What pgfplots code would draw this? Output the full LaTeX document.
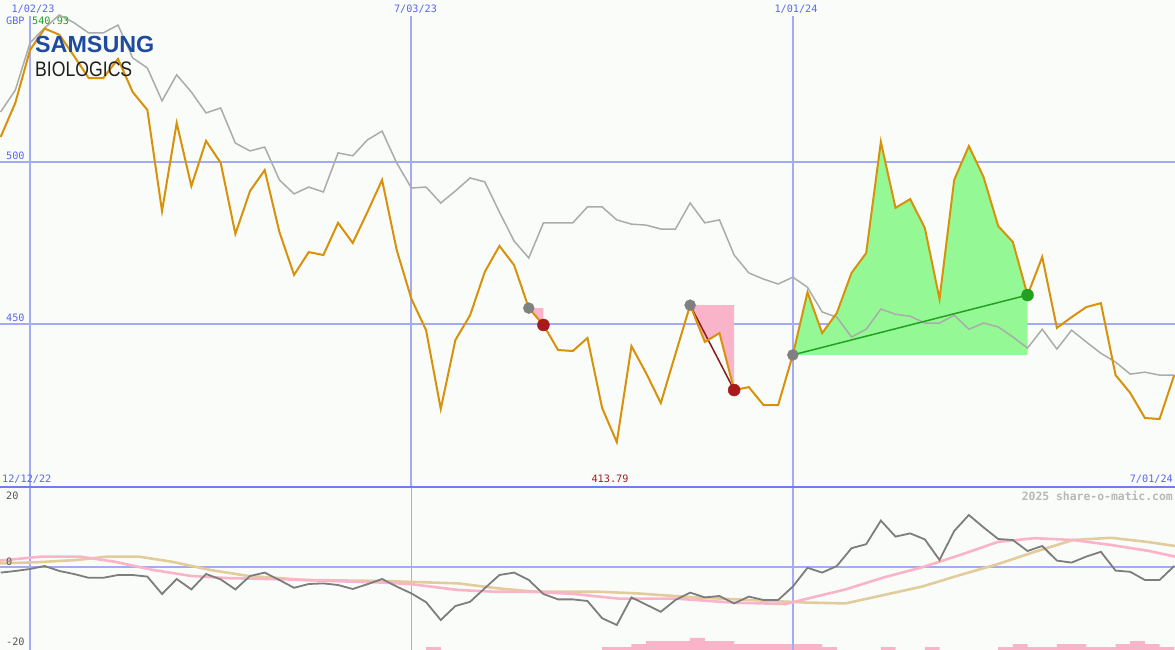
\documentclass[border=0pt]{standalone}
\usepackage{pgfplots}
\pgfplotsset{compat=1.18}
\usepackage{pgfplotstable}
\usepackage{graphicx}
\usepackage{fontspec}
\setmainfont{DejaVu Sans Mono}
\newfontfamily\logofont{Liberation Sans}

\definecolor{bgc}{HTML}{FAFCFA}
\definecolor{gridc}{HTML}{A2ABF4}
\definecolor{sepc}{HTML}{6F7DEE}
\definecolor{labc}{HTML}{5A66EE}
\definecolor{orangec}{HTML}{D8920A}
\definecolor{grayc}{HTML}{ABABAB}
\definecolor{dgray}{HTML}{7D7D7D}
\definecolor{pinkc}{HTML}{F9B4C9}
\definecolor{tanc}{HTML}{E3CC9C}
\definecolor{greenfill}{HTML}{94F994}
\definecolor{greenl}{HTML}{22A022}
\definecolor{redc}{HTML}{AA1A1A}
\definecolor{darkred}{HTML}{8B1A1A}
\definecolor{dotgray}{HTML}{808080}
\definecolor{samsungblue}{HTML}{1E4BA0}
\definecolor{wmark}{HTML}{B8B8B8}
\definecolor{lowlab}{HTML}{555555}

\pgfplotstableread{
w v
-2 507.6
-1 518.1
0 534.3
1 540.93
2 539.0
3 532.5
4 525.7
5 525.7
6 531.6
7 521.4
8 515.9
9 484.8
10 511.9
11 492.5
12 506.4
13 499.6
14 477.8
15 491.0
16 497.4
17 478.4
18 465.2
19 472.2
20 471.3
21 481.2
22 475.0
23 484.5
24 494.4
25 472.8
26 457.8
27 448.2
28 424.0
29 445.2
30 452.8
31 466.1
32 474.1
33 468.2
34 455.0
35 449.8
36 442.1
37 441.8
38 445.8
39 424.3
40 413.79
41 443.3
42 435.0
43 425.8
44 440.9
45 455.9
46 444.6
47 447.3
48 429.8
49 430.7
50 425.2
51 425.2
52 440.6
53 459.9
54 447.3
55 453.5
56 465.8
57 471.9
58 506.1
59 485.8
60 488.5
61 479.6
62 457.8
63 494.4
64 504.8
65 495.3
66 480.2
67 475.3
68 459.0
69 470.7
70 448.9
71 452.2
72 455.3
73 456.5
74 434.4
75 428.9
76 421.2
77 420.9
78 434.4
}\orangedata

\pgfplotstableread{
w v
-2 515.3
-1 522.0
0 536.5
1 541.1
2 545.1
3 542.7
4 539.6
5 539.6
6 542.0
7 531.9
8 528.8
9 518.7
10 526.7
11 521.4
12 515.0
13 516.5
14 505.7
15 503.3
16 504.5
17 494.4
18 490.1
19 492.2
20 490.7
21 502.7
22 501.8
23 506.7
24 509.4
25 499.6
26 491.9
27 492.2
28 487.3
29 491.0
30 495.0
31 493.8
32 484.5
33 475.6
34 470.4
35 481.2
36 481.2
37 481.2
38 486.1
39 486.1
40 482.1
41 480.8
42 480.5
43 479.3
44 479.3
45 487.3
46 481.2
47 482.1
48 471.3
49 465.8
50 463.9
51 462.4
52 464.5
53 461.4
54 453.8
55 452.2
56 446.1
57 448.5
58 454.7
59 453.1
60 452.5
61 450.4
62 450.4
63 452.8
64 448.5
65 450.4
66 449.2
67 446.1
68 442.7
69 448.5
70 442.4
71 448.2
72 444.6
73 441.1
74 438.4
75 434.7
76 435.3
77 434.4
78 434.4
}\graydata

\pgfplotstableread{
w v
-2 -1.4
-1 -1.0
0 -0.5
1 0.25
2 -1.0
3 -1.75
4 -2.7
5 -2.7
6 -2.0
7 -2.0
8 -2.4
9 -6.75
10 -3.0
11 -5.6
12 -1.75
13 -3.1
14 -5.6
15 -2.25
16 -1.4
17 -3.25
18 -5.2
19 -4.25
20 -4.1
21 -4.5
22 -5.5
23 -4.3
24 -3.0
25 -4.9
26 -6.6
27 -8.8
28 -13.25
29 -9.75
30 -8.7
31 -5.3
32 -2.0
33 -1.4
34 -3.25
35 -6.75
36 -8.1
37 -8.1
38 -8.5
39 -12.8
40 -14.5
41 -7.6
42 -9.4
43 -11.2
44 -8.25
45 -6.4
46 -7.6
47 -7.25
48 -9.1
49 -7.4
50 -8.25
51 -8.25
52 -4.9
53 -0.2
54 -1.4
55 0.25
56 4.7
57 5.7
58 11.6
59 7.6
60 8.4
61 6.9
62 1.75
63 9.0
64 13.0
65 9.9
66 7.0
67 6.75
68 4.0
69 5.25
70 1.6
71 1.1
72 2.6
73 3.8
74 -0.9
75 -1.2
76 -3.25
77 -3.25
78 0.25
}\momdata

\pgfplotstableread{
w v
-2.05 1.6
0.8 2.6
3.4 2.6
5.8 1.3
8.4 -0.75
11.0 -2.25
13.6 -2.8
17.5 -3.1
21.4 -3.6
24.1 -3.9
26.0 -4.3
29.2 -5.75
31.8 -6.2
34.5 -6.2
37.1 -6.75
40.1 -7.9
44.0 -7.9
47.9 -8.9
51.5 -9.25
53.0 -7.9
55.6 -5.6
58.2 -2.6
60.8 -0.1
63.4 3.0
66.0 6.3
68.5 7.2
71.1 6.75
73.7 5.5
76.3 4.0
78.05 2.6
}\pinkdata

\pgfplotstableread{
w v
-2.05 0.9
0.55 1.2
3.2 1.75
5.25 2.6
7.4 2.6
9.7 1.3
12.3 -0.75
14.9 -2.25
18.8 -3.25
24.1 -3.5
29.2 -4.1
31.8 -5.3
34.5 -6.2
38.9 -6.2
41.4 -6.6
45.3 -7.6
49.1 -8.25
53.0 -8.9
55.6 -9.1
58.2 -7.0
60.8 -4.9
63.4 -2.0
66.0 0.75
68.5 3.8
71.1 6.75
73.7 7.3
76.3 6.2
78.05 5.25
}\tandata

\pgfplotstableread{
w h
27.5 3
39.5 3
40.5 3
41.5 6
42.5 9
43.5 9
44.5 9
45.5 12
46.5 9
47.5 9
48.5 6
49.5 6
50.5 6
51.5 6
52.5 6
53.5 6
54.5 3
58.5 3
61.5 3
66.5 3
67.5 6
68.5 3
69.5 3
70.5 6
71.5 6
72.5 3
73.5 3
74.5 6
75.5 9
76.5 6
77.5 3
}\bardata

\pgfplotsset{panel/.style={scale only axis, width=1175bp, xmin=-2.045, xmax=78.05,
  axis lines=none, xtick=\empty, ytick=\empty}}

\begin{document}
\begin{tikzpicture}
\useasboundingbox (0,0) rectangle (1175bp,650bp);
\fill[bgc] (0,0) rectangle (1175bp,650bp);

% ---------- upper panel ----------
\begin{axis}[panel, at={(0,163bp)}, anchor=south west, height=487bp,
  ymin=400, ymax=549.7]
\draw[gridc, line width=2bp] (axis cs:-2.045,500) -- (axis cs:78.05,500);
\draw[gridc, line width=2bp] (axis cs:-2.045,450) -- (axis cs:78.05,450);
\draw[gridc, line width=2bp] (axis cs:0,400) -- (axis cs:0,544.8);
\draw[gridc, line width=2bp] (axis cs:26,400) -- (axis cs:26,544.8);
\draw[gridc, line width=2bp] (axis cs:52,400) -- (axis cs:52,544.8);
% shaded areas
\addplot[fill=pinkc, draw=none] coordinates {(34,455.0) (35,455.0) (35,449.8) (34,455.0)};
\addplot[fill=pinkc, draw=none] coordinates {(45,455.9) (48,455.9) (48,429.8) (47,447.3) (46,444.6) (45,455.9)};
\addplot[fill=greenfill, draw=none] coordinates {(52,440.6) (53,459.9) (54,447.3) (55,453.5) (56,465.8) (57,471.9) (58,506.1) (59,485.8) (60,488.5) (61,479.6) (62,457.8) (63,494.4) (64,504.8) (65,495.3) (66,480.2) (67,475.3) (68,459.0) (68,440.6) (52,440.6)};
% comparison line
\addplot[grayc, line width=1.5bp] table[x=w, y=v] {\graydata};
% trend lines
\addplot[darkred, line width=1.5bp] coordinates {(45,455.9) (48,429.8)};
\addplot[greenl, line width=1.5bp] coordinates {(52,440.6) (68,459.0)};
% markers
\addplot[only marks, mark=*, mark size=5.5bp, dotgray, mark options={draw=dotgray, fill=dotgray}] coordinates {(34,455.0) (45,455.9) (52,440.6)};
\addplot[only marks, mark=*, mark size=6bp, redc, mark options={draw=redc, fill=redc}] coordinates {(35,449.8) (48,429.8)};
\addplot[only marks, mark=*, mark size=6bp, greenl, mark options={draw=greenl, fill=greenl}] coordinates {(68,459.0)};
% price
\addplot[orangec, line width=2bp] table[x=w, y=v] {\orangedata};
\end{axis}

% ---------- lower panel: bars ----------
\begin{axis}[panel, at={(0,0)}, anchor=south west, height=163bp,
  ymin=0, ymax=163]
\addplot[ybar, bar width=1, bar shift=0, fill=pinkc, draw=none] table[x=w, y=h] {\bardata};
\end{axis}

% ---------- lower panel: indicators ----------
\begin{axis}[panel, at={(0,0)}, anchor=south west, height=163bp,
  ymin=-20.75, ymax=20]
\draw[gridc, line width=2bp] (axis cs:-2.045,0) -- (axis cs:78.05,0);
\draw[gridc, line width=1.8bp] (axis cs:0,-20.75) -- (axis cs:0,20);
\draw[gridc, line width=1.8bp] (axis cs:26,-20.75) -- (axis cs:26,20);
\draw[gridc, line width=1.8bp] (axis cs:52,-20.75) -- (axis cs:52,20);
\addplot[tanc, line width=2.6bp] table[x=w, y=v] {\tandata};
\addplot[pinkc, line width=2.6bp] table[x=w, y=v] {\pinkdata};
\addplot[dgray, line width=1.8bp] table[x=w, y=v] {\momdata};
\end{axis}

% separator
\draw[sepc, line width=2.3bp] (0,163bp) -- (1175bp,163bp);

% ---------- labels ----------
\begin{scope}[every node/.style={inner sep=0pt, font=\fontsize{10.2bp}{11bp}\selectfont}]
\node[labc] at (33bp,641bp) {1/02/23};
\node[labc] at (415.5bp,641bp) {7/03/23};
\node[labc] at (796bp,641bp) {1/01/24};
\node[labc, anchor=west] at (6bp,629bp) {GBP};
\node[greenl, anchor=west] at (32bp,629bp) {540.93};
\node[labc, anchor=west] at (6bp,494bp) {500};
\node[labc, anchor=west] at (6bp,332bp) {450};
\node[labc, anchor=west] at (2bp,171bp) {12/12/22};
\node[redc] at (610bp,171bp) {413.79};
\node[labc, anchor=east] at (1173bp,171bp) {7/01/24};
\node[lowlab, anchor=west] at (6bp,154.5bp) {20};
\node[lowlab, anchor=west] at (6bp,88.5bp) {0};
\node[lowlab, anchor=west] at (6bp,8bp) {-20};
\node[wmark, anchor=east, font=\bfseries\fontsize{11.4bp}{12bp}\selectfont] at (1173bp,154bp) {2025 share-o-matic.com};
\end{scope}

% logo
\node[anchor=base west, inner sep=0pt, text=samsungblue, font=\logofont\bfseries\fontsize{23.3bp}{24bp}\selectfont] at (35bp,597.3bp) {SAMSUNG};
\node[anchor=base west, inner sep=0pt, text=black!88, font=\logofont\fontsize{21bp}{22bp}\selectfont] at (35bp,573bp) {\scalebox{0.84}[1]{BIOLOGICS}};
\end{tikzpicture}
\end{document}
